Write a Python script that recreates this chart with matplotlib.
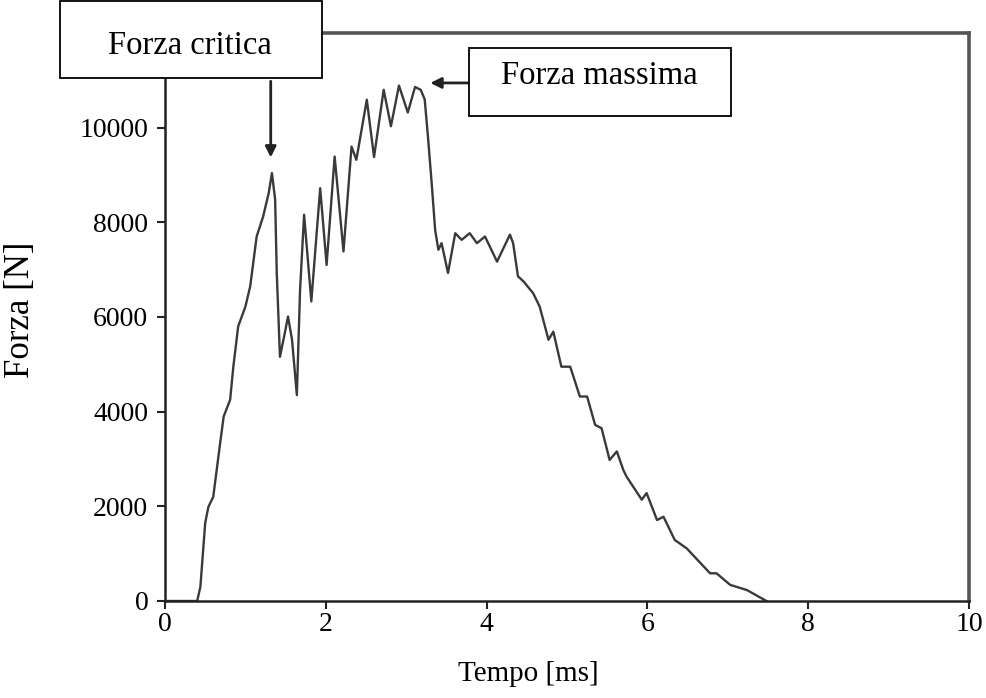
import matplotlib
matplotlib.use("Agg")
import matplotlib.pyplot as plt
from matplotlib.patches import Rectangle

# curva forza-tempo (t in ms, F in N)
tempo = [0, 0.40, 0.44, 0.50, 0.54, 0.60, 0.68, 0.73, 0.81, 0.85, 0.91, 1.00, 1.06, 1.14,
         1.22, 1.29, 1.33, 1.37, 1.39, 1.43, 1.49, 1.53, 1.58, 1.64, 1.68, 1.73, 1.82, 1.93,
         2.01, 2.11, 2.22, 2.32, 2.38, 2.51, 2.60, 2.72, 2.81, 2.91, 3.02, 3.11, 3.18, 3.23,
         3.27, 3.32, 3.36, 3.40, 3.44, 3.52, 3.61, 3.69, 3.79, 3.88, 3.98, 4.13, 4.29, 4.33,
         4.39, 4.46, 4.58, 4.66, 4.77, 4.83, 4.93, 5.04, 5.16, 5.25, 5.35, 5.43, 5.53, 5.62,
         5.70, 5.74, 5.93, 5.99, 6.12, 6.20, 6.34, 6.49, 6.78, 6.86, 7.03, 7.24, 7.48]
forza = [0, 0, 300, 1650, 1990, 2200, 3260, 3900, 4250, 4950, 5800, 6220, 6650, 7700,
         8120, 8620, 9040, 8480, 6930, 5160, 5660, 6010, 5520, 4350, 6575, 8160, 6330, 8720,
         7100, 9390, 7385, 9600, 9320, 10590, 9380, 10800, 10030, 10890, 10320, 10860, 10800, 10600,
         9820, 8760, 7840, 7420, 7560, 6930, 7770, 7630, 7770, 7560, 7700, 7170, 7740, 7560,
         6860, 6750, 6500, 6220, 5520, 5690, 4950, 4950, 4320, 4320, 3720, 3650, 2980, 3160,
         2770, 2630, 2140, 2280, 1710, 1780, 1290, 1110, 585, 585, 340, 230, 0]

x_ticks = [0, 2, 4, 6, 8, 10]
y_ticks = [0, 2000, 4000, 6000, 8000, 10000]

# punti indicati dalle frecce (forza critica, forza massima)
critica = (1.315, 9370)
massima = (3.30, 10945)

plt.rcParams['font.family'] = 'Liberation Serif'

W, H = 986, 698
fig = plt.figure(figsize=(W / 100, H / 100), dpi=100)
ax = fig.add_axes([165 / W, 1 - 601 / H, (969 - 165) / W, (601 - 33) / H])

ax.plot(tempo, forza, color='#3a3a3a', lw=1.7, solid_joinstyle='round')

ax.set_xlim(0, 10)
ax.set_ylim(0, 12000)
ax.set_xticks(x_ticks)
ax.set_yticks(y_ticks)
ax.tick_params(direction='out', length=6, width=1.5, labelsize=20, color='#222222')
ax.tick_params(axis='x', pad=2)
ax.tick_params(axis='y', pad=6)

for side in ['left', 'bottom']:
    ax.spines[side].set_color('#222222')
    ax.spines[side].set_linewidth(1.8)
for side in ['top', 'right']:
    ax.spines[side].set_color('#555555')
    ax.spines[side].set_linewidth(2.6)

ax.set_xlabel('Tempo [ms]', fontsize=21)
ax.set_ylabel('Forza [N]', fontsize=25)
ax.xaxis.set_label_coords((528 - 165) / 804, -0.105)
ax.yaxis.set_label_coords((37 - 165) / 804, 0.512)

# frecce
frecce = dict(arrowstyle='-|>', color='#222222', lw=2, mutation_scale=16, shrinkA=0, shrinkB=0)
ax.annotate('', xy=critica, xytext=(critica[0], 10980), arrowprops=frecce)
ax.annotate('', xy=massima, xytext=(3.78, massima[1]), arrowprops=frecce)

# riquadri con le etichette
def box(x0, y0, x1, y1, testo, tx, ty):
    fig.add_artist(Rectangle((x0 / W, 1 - y1 / H), (x1 - x0) / W, (y1 - y0) / H,
                             transform=fig.transFigure, facecolor='white',
                             edgecolor='black', lw=1.3, zorder=5))
    fig.text(tx / W, 1 - ty / H, testo, fontsize=23.5, ha='center', va='center', zorder=6)

box(60, 1, 322, 78, 'Forza critica', 190, 46)
box(469, 48, 731, 116, 'Forza massima', 599, 76)

fig.savefig('out.png', dpi=100)
